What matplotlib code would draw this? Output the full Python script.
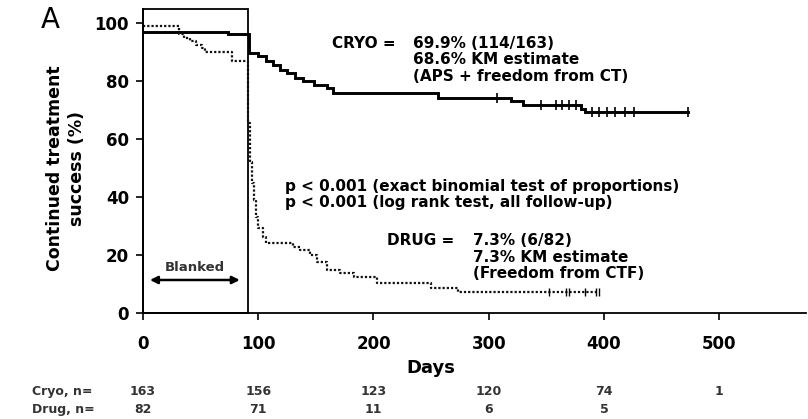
import numpy as np
import matplotlib
matplotlib.use("Agg")
import matplotlib.pyplot as plt
from matplotlib import transforms
from matplotlib.patches import Rectangle

plt.rcParams['font.family'] = ['DejaVu Sans']

# ---- data ----
cryo_t = [0, 74, 92, 100, 107, 113, 119, 125, 132, 139, 148, 160, 165, 256, 319, 330, 380, 384, 473]
cryo_s = [97.2, 96.2, 89.9, 88.7, 87.0, 85.8, 84.1, 82.9, 81.2, 80.0, 78.9, 77.8, 76.0, 74.3, 73.1, 72.0, 70.3, 69.3, 69.3]
cryo_censor = [307, 345, 358, 364, 370, 376, 390, 396, 403, 410, 418, 426, 473]

drug_t = [0, 31, 36, 41, 46, 51, 54, 77, 91.5, 93, 94.5, 96, 98, 100, 104, 107, 130, 136, 145, 151, 160, 171, 183, 203, 250, 273, 396]
drug_s = [99.0, 96.5, 95.1, 93.9, 92.7, 91.5, 90.0, 87.0, 65.7, 52.0, 45.0, 39.0, 33.0, 29.5, 26.3, 24.2, 22.9, 21.8, 20.0, 17.7, 14.9, 13.7, 12.6, 10.3, 8.5, 7.3, 7.3]
drug_censor = [352, 367, 370, 384, 393, 396]

blank_end = 91.5
x_ticks = [0, 100, 200, 300, 400, 500]
y_ticks = [0, 20, 40, 60, 80, 100]
risk_days = [0, 100, 200, 300, 400, 500]
cryo_risk = ['163', '156', '123', '120', '74', '1']
drug_risk = ['82', '71', '11', '6', '5', '']

cryo_text = ["69.9% (114/163)", "68.6% KM estimate", "(APS + freedom from CT)"]
drug_text = ["7.3% (6/82)", "7.3% KM estimate", "(Freedom from CTF)"]
p_text = ["p < 0.001 (exact binomial test of proportions)",
          "p < 0.001 (log rank test, all follow-up)"]


def step_value(t, s, x):
    i = np.searchsorted(t, x, side='right') - 1
    return np.asarray(s)[i]


fig = plt.figure(figsize=(8.08, 4.19), dpi=100)
ax = fig.add_axes([0.177, 0.253, 0.82, 0.7255])

ax.step(cryo_t, cryo_s, where='post', color='black', lw=2.1, solid_joinstyle='miter')
ax.step(drug_t, drug_s, where='post', color='#111111', lw=1.6, linestyle=(0, (1, 0.9)))
ax.plot(cryo_censor, step_value(cryo_t, cryo_s, cryo_censor), linestyle='none',
        marker='|', markersize=7, mew=1.2, color='black')
ax.plot(drug_censor, step_value(drug_t, drug_s, drug_censor), linestyle='none',
        marker='|', markersize=6, mew=1.0, color='black')

ax.add_patch(Rectangle((0, 0), blank_end, 105, fill=False, lw=1.3,
                       edgecolor='black', clip_on=False))

ax.set_xlim(0, 575)
ax.set_ylim(0, 105)
ax.spines['top'].set_visible(False)
ax.spines['right'].set_visible(False)
ax.spines['left'].set_linewidth(1.3)
ax.spines['bottom'].set_linewidth(1.3)
ax.set_xticks(x_ticks)
ax.set_yticks(y_ticks)
ax.tick_params(axis='x', direction='out', length=5, width=1.2, pad=11, labelsize=12)
ax.tick_params(axis='y', direction='out', length=5, width=1.2, pad=5, labelsize=12)
for lab in ax.get_xticklabels() + ax.get_yticklabels():
    lab.set_fontweight('bold')

# blanked arrow
ax.annotate('', xy=(6, 11.4), xytext=(84, 11.4),
            arrowprops=dict(arrowstyle='<|-|>', lw=1.8, color='black', mutation_scale=11,
                            shrinkA=0, shrinkB=0))
ax.text(45, 15.6, 'Blanked', ha='center', va='center', fontsize=9.5,
        fontweight='bold', color='#333333')

# annotations
ax.text(164, 95.8, "CRYO = ", ha='left', va='top', fontsize=11, fontweight='bold', linespacing=1.15)
ax.text(234, 95.8, "\n".join(cryo_text), ha='left', va='top', fontsize=11,
        fontweight='bold', linespacing=1.15)
ax.text(123.5, 46.4, "\n".join(p_text), ha='left', va='top', fontsize=11,
        fontweight='bold', linespacing=1.15)
ax.text(212, 27.7, "DRUG = ", ha='left', va='top', fontsize=11, fontweight='bold', linespacing=1.15)
ax.text(286, 27.7, "\n".join(drug_text), ha='left', va='top', fontsize=11,
        fontweight='bold', linespacing=1.15)

# x label and at-risk rows
blend = transforms.blended_transform_factory(ax.transData, ax.transAxes)
ax.text(250, -0.181, 'Days', transform=blend, ha='center', va='center',
        fontsize=13, fontweight='bold')
for d, c, g in zip(risk_days, cryo_risk, drug_risk):
    ax.text(d, -0.257, c, transform=blend, ha='center', va='center', fontsize=9,
            fontweight='bold', color='#333333')
    ax.text(d, -0.316, g, transform=blend, ha='center', va='center', fontsize=9,
            fontweight='bold', color='#333333')
fig.text(0.04, 1 - 391 / 419, 'Cryo, n=', ha='left', va='center', fontsize=9,
         fontweight='bold', color='#333333')
fig.text(0.04, 1 - 409 / 419, 'Drug, n=', ha='left', va='center', fontsize=9,
         fontweight='bold', color='#333333')

# y label and panel letter
fig.text(66 / 808, 1 - 168 / 419, 'Continued treatment\nsuccess (%)', rotation=90,
         ha='center', va='center', fontsize=12.5, fontweight='bold', linespacing=1.3)
fig.text(50 / 808, 1 - 20 / 419, 'A', ha='center', va='center', fontsize=20)

fig.savefig('out.png', dpi=100)
